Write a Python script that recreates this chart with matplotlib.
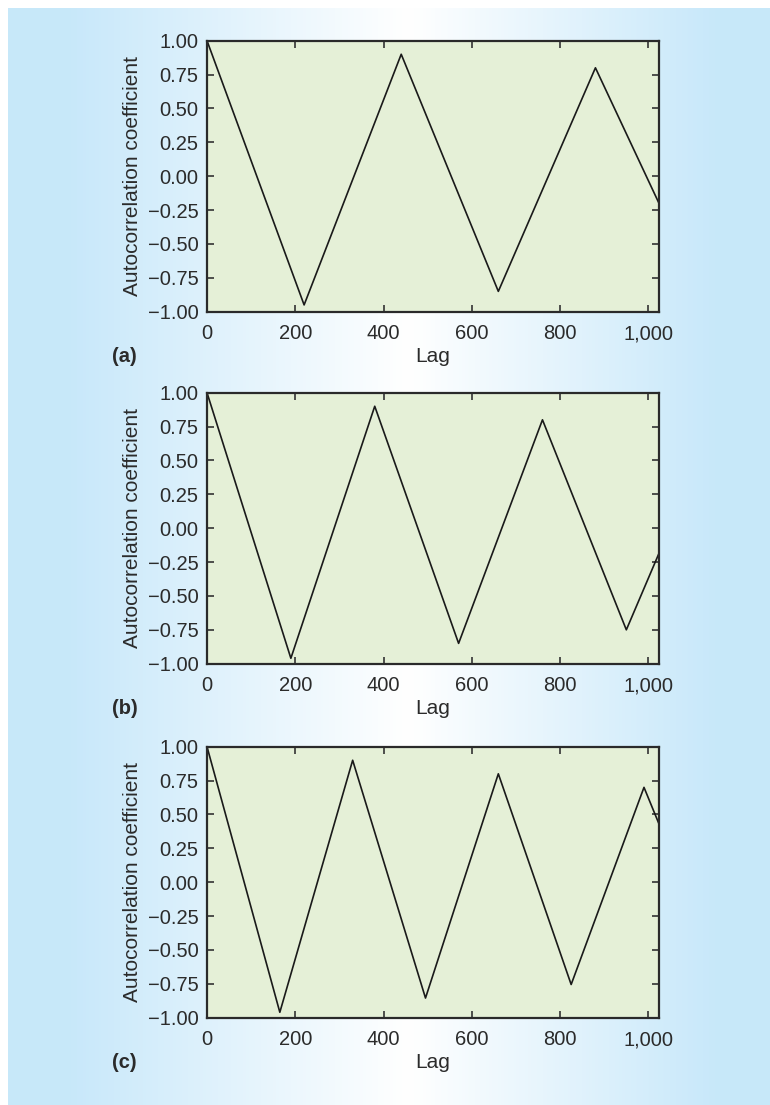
import numpy as np
import matplotlib
matplotlib.use("Agg")
import matplotlib.pyplot as plt
from matplotlib.colors import LinearSegmentedColormap

# ---- data ----
lag_a = [0, 220, 440, 660, 880, 1024]
acf_a = [1.00, -0.95, 0.90, -0.85, 0.80, -0.20]

lag_b = [0, 190, 380, 570, 760, 950, 1024]
acf_b = [1.00, -0.96, 0.90, -0.85, 0.80, -0.75, -0.185]

lag_c = [0, 165, 330, 495, 660, 825, 990, 1024]
acf_c = [1.00, -0.96, 0.90, -0.855, 0.80, -0.755, 0.70, 0.43]

xticks = [0, 200, 400, 600, 800, 1000]
xticklabels = ["0", "200", "400", "600", "800", "1,000"]
yticks = [-1.00, -0.75, -0.50, -0.25, 0.00, 0.25, 0.50, 0.75, 1.00]
yticklabels = ["\u22121.00", "\u22120.75", "\u22120.50", "\u22120.25", "0.00",
               "0.25", "0.50", "0.75", "1.00"]
panel_labels = ["(a)", "(b)", "(c)"]

plt.rcParams['font.family'] = ['Liberation Sans', 'DejaVu Sans']

W, H = 770, 1105
fig = plt.figure(figsize=(W / 100, H / 100), dpi=100)
fig.patch.set_facecolor("white")

# background gradient panel
bg = fig.add_axes([8 / W, -0.01, 1 - 8 / W + 0.01, 1 - 8 / H + 0.01], zorder=-10)
blue = (0.784, 0.910, 0.980)
cmap = LinearSegmentedColormap.from_list(
    "bg", [(0.0, blue), (0.08, blue), (0.52, (1, 1, 1)), (0.92, blue), (1.0, blue)])
grad = np.linspace(0, 1, 512).reshape(1, -1)
bg.imshow(grad, aspect="auto", cmap=cmap, extent=[0, 1, 0, 1])
bg.set_axis_off()

txt = "#2b2b2b"
fs = 14.5
left = 207 / W
width = 452 / W
height = 271 / H
tops = [40.7, 392.7, 746.7]
datasets = [(lag_a, acf_a), (lag_b, acf_b), (lag_c, acf_c)]

for top, (lx, ly), plab in zip(tops, datasets, panel_labels):
    bottom = 1 - (top + 271) / H
    ax = fig.add_axes([left, bottom, width, height])
    ax.set_facecolor("#e5f0d7")
    ax.plot(lx, ly, color="#1a1a1a", lw=1.2)
    ax.set_xlim(0, 1024)
    ax.set_ylim(-1, 1)
    ax.set_xticks(xticks)
    ax.set_xticklabels(xticklabels)
    ax.set_yticks(yticks)
    ax.set_yticklabels(yticklabels)
    ax.tick_params(direction="in", length=5, width=1.2, top=True, right=True,
                   labelsize=fs, labelcolor=txt, color="#333333", pad=6)
    ax.tick_params(axis="x", pad=9)
    for s in ax.spines.values():
        s.set_linewidth(1.6)
        s.set_color("#2a2a2a")
    ax.set_ylabel("Autocorrelation coefficient", fontsize=fs + 0.5, color=txt, labelpad=4)
    ax.set_xlabel("Lag", fontsize=fs + 0.5, color=txt, labelpad=3)
    fig.text(112 / W, 1 - (top + 271 + 45) / H, plab, fontsize=fs, fontweight="bold",
             color=txt, ha="left", va="center")

fig.savefig("out.png", dpi=100, facecolor=fig.get_facecolor())
